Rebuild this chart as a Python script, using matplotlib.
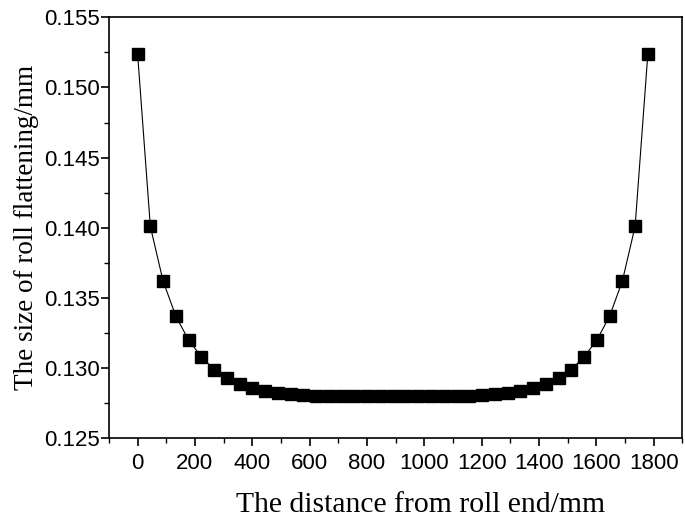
import numpy as np
import matplotlib.pyplot as plt
from matplotlib.ticker import MultipleLocator

# distance from roll end (mm), 41 stations
distance = [i * 44.5 for i in range(41)]
half = [0.1524, 0.1401, 0.1362, 0.1337, 0.1320, 0.1308, 0.1299, 0.1293,
        0.1289, 0.1286, 0.1284, 0.12825, 0.12814, 0.12807, 0.12804,
        0.12802, 0.12800, 0.12800, 0.12800, 0.12800]
centre = [0.12800]
flattening = half + centre + half[::-1]

fig = plt.figure(figsize=(6.85, 5.23), dpi=100)
ax = fig.add_axes([0.159, 0.162, 0.837, 0.805])

ax.plot(distance, flattening, color='black', lw=0.8, marker='s',
        markersize=8, markerfacecolor='black', markeredgecolor='black')

ax.set_xlim(-100, 1900)
ax.set_ylim(0.125, 0.155)
ax.xaxis.set_major_locator(MultipleLocator(200))
ax.xaxis.set_minor_locator(MultipleLocator(100))
ax.yaxis.set_major_locator(MultipleLocator(0.005))
ax.yaxis.set_minor_locator(MultipleLocator(0.0025))
ax.set_xticks(range(0, 1801, 200))
ax.set_xticklabels([str(v) for v in range(0, 1801, 200)])
ax.set_yticklabels(['%.3f' % v for v in ax.get_yticks()])

ax.tick_params(which='major', direction='out', length=5.5, width=1.2,
               labelsize=16, top=False, right=False)
ax.tick_params(axis='x', which='major', pad=5)
ax.tick_params(axis='y', which='major', pad=1)
ax.tick_params(which='minor', direction='out', length=3.5, width=1.0,
               top=False, right=False)
for lab in ax.get_xticklabels() + ax.get_yticklabels():
    lab.set_fontfamily('Liberation Sans')
for sp in ax.spines.values():
    sp.set_linewidth(1.2)

ax.set_xlabel('The distance from roll end/mm', fontsize=21.3,
              family='Liberation Serif')
ax.xaxis.set_label_coords(0.543, -0.128)
ax.set_ylabel('The size of roll flattening/mm', fontsize=19.5,
              family='Liberation Serif', labelpad=4)

fig.savefig('out.png', dpi=100)
